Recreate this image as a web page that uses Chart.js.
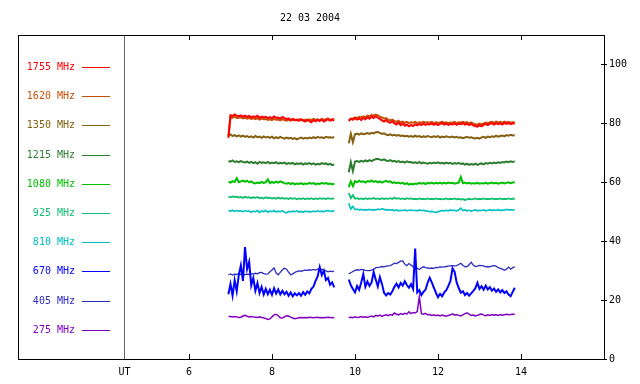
<!DOCTYPE html>
<html>
<head>
<meta charset="utf-8">
<script src="https://cdn.jsdelivr.net/npm/chart.js@4.4.0/dist/chart.umd.min.js"></script>
<style>
  html, body { margin: 0; padding: 0; background: #fff; }
  #spectro { display: block; }
</style>
</head>
<body>
<canvas id="spectro" width="640" height="384"></canvas>
<script>
// time in UT hours, two observing runs with a gap between them
const hours = [
  6.95,7,7.05,7.1,7.15,7.2,7.25,7.3,7.35,7.4,
  7.45,7.5,7.55,7.6,7.65,7.7,7.75,7.8,7.85,7.9,
  7.95,8,8.05,8.1,8.15,8.2,8.25,8.3,8.35,8.4,
  8.45,8.5,8.55,8.6,8.65,8.7,8.75,8.8,8.85,8.9,
  8.95,9,9.05,9.1,9.15,9.2,9.25,9.3,9.35,9.4,
  9.45,9.5,
  9.68,
  9.85,9.9,9.95,10,10.05,10.1,10.15,10.2,10.25,10.3,
  10.35,10.4,10.45,10.5,10.55,10.6,10.65,10.7,10.75,10.8,
  10.85,10.9,10.95,11,11.05,11.1,11.15,11.2,11.25,11.3,
  11.35,11.4,11.45,11.5,11.55,11.6,11.65,11.7,11.75,11.8,
  11.85,11.9,11.95,12,12.05,12.1,12.15,12.2,12.25,12.3,
  12.35,12.4,12.45,12.5,12.55,12.6,12.65,12.7,12.75,12.8,
  12.85,12.9,12.95,13,13.05,13.1,13.15,13.2,13.25,13.3,
  13.35,13.4,13.45,13.5,13.55,13.6,13.65,13.7,13.75,13.8,
  13.85
];

const xTicks = [6, 8, 10, 12, 14];
const yTicks = [0, 20, 40, 60, 80, 100];
const utHour = 4.43;
const title = '22 03 2004';

const freqLabels = ['1755 MHz', '1620 MHz', '1350 MHz', '1215 MHz', '1080 MHz',
                    '925 MHz', '810 MHz', '670 MHz', '405 MHz', '275 MHz'];
const freqColors = ['#ff0000', '#c8500a', '#846010', '#2e7d2e', '#00c000',
                    '#10bf70', '#00c0c0', '#0000ff', '#2c2cc0', '#8000c0'];
const lineWidths = [2, 2, 2, 2, 2, 1.8, 1.6, 2, 1.3, 1.5];

const f1755 = [
  75.5,82.8,82.5,83.0,82.6,82.4,82.7,82.3,82.6,82.2,
  82.5,82.0,82.4,82.1,82.6,81.9,82.3,82.0,82.2,81.8,
  82.1,81.7,82.3,81.9,82.0,81.6,82.2,81.8,81.4,81.7,
  81.2,81.5,81.0,81.3,80.9,81.4,81.0,80.6,81.2,80.8,
  80.4,81.1,80.7,81.2,80.8,81.3,80.6,81.0,81.4,80.9,
  81.2,81.0,
  null,
  80.8,81.6,81.2,81.8,81.3,81.7,81.1,81.9,81.4,82.0,
  81.6,82.3,81.8,82.4,81.9,81.5,81.0,80.6,81.1,80.4,
  80.2,80.7,80.0,79.6,80.3,79.4,79.9,79.2,79.6,79.0,
  79.5,79.1,79.7,79.3,79.8,79.4,79.9,79.5,79.8,79.6,
  80.0,79.5,79.9,79.4,79.8,80.1,79.6,79.9,79.5,79.8,
  79.6,80.0,79.5,79.9,79.7,80.1,79.6,79.9,79.4,79.8,
  79.3,79.1,78.9,79.4,79.0,79.5,79.8,79.4,79.9,80.0,
  79.6,80.1,79.7,80.0,79.6,80.2,79.8,80.1,79.7,80.0,
  79.9
];

const f1620 = [
  75.0,82.0,81.9,82.2,81.8,81.9,82.1,81.7,81.9,81.6,
  81.8,81.5,81.7,81.4,81.8,81.3,81.6,81.4,81.5,81.2,
  81.4,81.1,81.5,81.2,81.3,81.0,81.4,81.1,80.9,81.2,
  80.9,81.2,81.3,81.0,81.4,81.1,80.9,81.3,81.0,81.4,
  81.1,81.5,81.2,81.4,81.0,81.5,81.2,81.4,81.6,81.2,
  81.5,81.3,
  null,
  81.2,81.5,81.7,82.0,81.8,82.2,82.0,82.4,82.1,82.6,
  82.4,82.9,82.6,83.0,82.7,82.3,82.0,81.6,81.8,81.2,
  81.0,81.3,80.8,80.5,80.9,80.3,80.6,80.2,80.5,80.1,
  80.4,80.2,80.5,80.1,80.4,80.2,80.5,80.3,80.4,80.2,
  80.5,80.1,80.4,80.2,80.3,80.5,80.2,80.4,80.1,80.3,
  80.2,80.5,80.1,80.4,80.3,80.5,80.2,80.4,80.0,80.3,
  79.9,79.7,79.6,79.9,79.7,80.0,80.3,80.0,80.4,80.5,
  80.2,80.6,80.3,80.5,80.2,80.6,80.3,80.5,80.2,80.4,
  80.4
];

const f1350 = [
  75.8,76.2,75.7,76.0,75.6,75.9,75.5,75.8,75.4,75.7,
  75.3,75.6,75.2,75.7,75.3,75.5,75.1,75.6,75.2,75.4,
  75.1,75.5,74.9,75.3,75.0,75.4,75.1,74.8,75.2,74.9,
  75.1,74.7,75.0,74.6,74.9,75.2,74.8,75.1,74.9,75.2,
  75.0,75.3,75.0,75.4,75.1,75.3,75.0,75.4,75.2,75.3,
  75.1,75.4,
  null,
  73.2,76.4,73.6,76.3,76.5,76.2,76.6,76.3,76.5,76.7,
  76.4,76.8,76.6,77.0,77.1,76.8,76.4,76.6,76.2,76.0,
  76.3,75.9,76.1,75.8,76.0,75.7,75.9,75.6,75.8,75.5,
  75.7,75.4,75.8,75.5,75.7,75.3,75.6,75.4,75.7,75.5,
  75.3,75.6,75.4,75.7,75.2,75.5,75.3,75.6,75.4,75.3,
  75.5,75.2,75.4,75.1,75.3,75.0,75.2,75.4,75.1,75.3,
  75.0,74.9,75.1,74.8,75.2,75.4,75.1,75.5,75.3,75.6,
  75.4,75.8,75.5,75.7,75.9,75.6,76.0,75.8,76.1,75.9,
  76.0
];

const f1215 = [
  67.2,67.0,67.4,66.9,67.1,66.8,67.2,66.9,66.7,67.0,
  66.6,66.9,66.5,66.8,66.3,66.9,66.6,66.8,66.5,66.9,
  66.4,66.7,66.5,66.8,66.3,66.6,66.4,66.7,66.2,66.5,
  66.3,66.6,66.1,66.4,66.2,66.5,66.0,66.4,66.2,66.5,
  66.1,66.4,66.0,66.3,66.1,66.5,66.2,66.4,66.0,66.3,
  65.8,66.1,
  null,
  63.4,66.8,63.8,67.0,67.2,66.9,67.3,67.0,67.4,67.1,
  67.5,67.2,67.6,67.8,68.0,67.7,67.5,67.8,67.4,67.2,
  67.5,67.1,67.3,66.9,67.2,66.8,67.0,66.7,67.1,66.8,
  66.9,66.6,66.8,66.5,66.9,66.4,66.7,66.5,66.3,66.6,
  66.4,66.7,66.5,66.8,66.4,66.6,66.3,66.7,66.4,66.6,
  66.2,66.5,66.3,66.6,66.2,66.4,66.0,66.3,65.9,66.2,
  66.0,66.3,65.9,66.2,66.4,66.1,66.5,66.3,66.6,66.4,
  66.7,66.5,66.8,66.6,66.9,66.7,67.0,66.8,67.1,66.9,
  67.1
];

const f1080 = [
  60.2,59.9,60.4,60.1,61.4,60.0,60.3,60.6,60.2,60.5,
  60.0,60.3,59.8,59.6,59.9,59.7,60.1,59.8,60.0,61.0,
  59.7,60.1,59.8,60.2,59.9,60.3,60.0,59.7,59.5,59.8,
  59.4,59.7,59.3,59.6,59.4,59.7,59.3,59.6,59.4,59.8,
  59.5,59.7,59.3,59.6,59.4,59.8,59.5,59.7,59.4,59.6,
  59.3,59.5,
  null,
  58.3,60.3,58.7,60.4,60.0,60.5,60.1,60.3,59.9,60.4,
  60.2,60.6,60.1,60.4,60.0,60.3,59.9,60.2,60.5,60.1,
  60.3,59.8,60.0,59.7,59.9,59.6,59.8,59.4,59.7,59.2,
  59.5,59.3,59.6,59.4,59.8,59.5,59.7,59.4,59.8,59.6,
  59.9,59.5,59.8,59.6,59.9,59.5,59.8,59.6,59.9,59.7,
  59.8,59.5,59.7,59.9,61.8,59.7,59.9,59.6,59.8,59.5,
  59.7,59.6,59.8,59.5,59.7,59.6,59.8,59.5,59.7,59.9,
  59.6,59.8,59.5,59.7,59.9,59.6,59.8,60.0,59.7,59.9,
  60.0
];

const f925 = [
  55.1,54.9,55.2,55.0,55.1,54.8,55.0,54.7,55.1,54.8,
  54.9,54.6,54.9,54.7,55.0,54.6,54.8,54.5,54.9,54.6,
  54.8,54.5,54.7,54.4,54.8,54.5,54.7,54.4,54.6,54.3,
  54.7,54.4,54.6,54.2,54.5,54.3,54.6,54.2,54.5,54.3,
  54.6,54.2,54.5,54.3,54.6,54.4,54.5,54.3,54.6,54.4,
  54.5,54.4,
  null,
  56.3,54.6,55.6,54.4,54.6,54.3,54.5,54.2,54.6,54.3,
  54.5,54.4,54.7,54.3,54.5,54.2,54.6,54.3,54.5,54.4,
  54.6,54.3,54.8,54.4,54.6,54.3,54.5,54.2,54.6,54.4,
  54.5,54.3,54.4,54.2,54.5,54.3,54.4,54.2,54.5,54.3,
  54.4,54.2,54.5,54.3,54.4,54.2,54.3,54.5,54.2,54.4,
  54.3,54.5,54.2,54.4,54.1,54.3,54.0,54.2,54.4,54.2,
  54.3,54.5,54.2,54.4,54.3,54.5,54.2,54.4,54.3,54.5,
  54.2,54.4,54.3,54.5,54.2,54.4,54.3,54.5,54.3,54.4,
  54.4
];

const f810 = [
  50.4,50.2,50.5,50.1,50.4,50.2,50.3,50.0,50.4,50.1,
  50.3,49.8,50.2,50.0,50.4,49.7,50.3,50.0,50.5,49.8,
  50.2,50.0,50.4,49.9,50.2,50.0,50.3,49.9,49.6,50.1,
  49.9,50.2,50.0,50.3,49.9,50.1,49.8,50.2,50.0,50.1,
  49.9,50.2,50.0,50.3,50.1,50.2,50.0,50.3,50.4,50.1,
  50.3,50.2,
  null,
  52.9,50.9,51.8,50.7,50.9,50.6,50.8,50.5,50.7,50.6,
  50.8,50.5,50.7,50.6,50.9,50.7,51.0,50.8,50.6,50.7,
  50.5,50.7,50.4,50.6,50.3,50.5,50.4,50.6,50.3,50.5,
  50.6,50.4,50.5,50.3,50.6,50.4,50.5,50.3,50.2,50.0,
  50.1,49.9,49.8,50.0,50.2,50.4,50.3,50.5,50.3,50.6,
  50.4,50.5,50.3,50.6,51.2,50.4,50.6,50.3,50.5,50.2,
  50.4,50.6,50.3,50.5,50.4,50.6,50.3,50.5,50.7,50.4,
  50.6,50.5,50.7,50.4,50.6,50.5,50.8,50.6,50.7,50.5,
  50.8
];

const f670 = [
  22.0,25.5,21.5,26.8,23.0,28.5,31.8,26.5,38.0,30.5,
  33.0,25.0,27.5,23.2,25.8,22.4,24.5,21.9,23.8,22.0,
  23.5,21.8,24.0,22.2,23.6,21.9,23.2,22.0,22.8,21.5,
  22.6,21.3,22.3,21.6,22.4,21.5,22.7,21.8,22.9,22.3,
  23.8,24.6,26.5,28.0,31.2,28.5,30.0,26.8,27.5,25.2,
  26.0,24.3,
  null,
  27.0,25.0,23.8,22.6,24.8,23.5,26.0,28.8,24.5,26.3,
  24.8,26.0,29.5,27.0,24.6,27.8,25.5,22.5,21.6,22.4,
  21.9,23.0,24.5,25.6,24.3,25.8,24.9,26.4,25.1,24.2,
  25.4,23.8,37.5,22.6,23.4,21.7,22.8,23.5,25.9,27.6,
  26.0,24.2,22.5,21.0,22.1,21.3,22.6,23.4,24.8,26.5,
  30.8,29.6,26.0,24.1,22.5,23.0,21.7,22.4,21.5,22.3,
  23.1,24.0,25.9,23.8,24.7,23.5,24.9,23.6,24.4,23.2,
  23.9,22.8,23.6,22.6,23.4,22.4,23.0,21.9,21.3,22.8,
  24.2
];

const f405 = [
  28.6,28.9,28.5,28.8,28.7,29.0,28.7,28.9,28.6,28.8,
  28.7,29.0,28.8,29.1,28.9,29.3,29.4,29.0,28.8,28.9,
  29.6,30.2,30.9,29.2,28.6,29.4,30.3,30.8,30.5,29.5,
  28.6,28.9,29.4,29.7,29.9,29.8,30.0,30.2,30.1,30.3,
  30.2,30.4,30.2,30.5,30.6,30.4,30.1,29.9,29.6,29.8,
  29.7,29.8,
  null,
  28.9,29.3,29.7,30.1,30.3,30.2,30.4,30.3,30.1,30.0,
  30.0,30.2,30.4,31.0,31.1,31.2,31.4,31.3,31.5,31.6,
  31.7,32.1,32.5,32.4,32.8,33.2,33.3,32.2,31.7,32.4,
  31.9,31.3,31.5,30.8,30.4,31.0,31.3,31.0,30.9,30.8,
  30.9,30.8,31.1,31.0,31.3,31.2,31.3,31.4,31.5,31.6,
  31.7,31.6,31.7,32.1,32.5,31.8,31.3,31.4,32.0,32.8,
  31.9,31.4,31.5,31.8,31.7,31.6,31.3,31.4,31.3,31.6,
  31.7,31.5,31.0,30.8,30.5,30.1,30.5,31.2,30.5,31.0,
  31.3
];

const f275 = [
  14.4,14.4,14.3,14.4,14.3,14.1,14.2,14.6,14.8,14.5,
  14.3,14.4,14.3,14.2,14.1,14.3,14.1,14.0,13.7,13.4,
  13.6,14.3,15.0,15.2,14.7,14.0,13.9,14.3,14.7,14.6,
  14.2,13.9,13.7,13.8,14.0,14.1,14.0,14.1,14.0,14.2,
  14.1,14.0,14.1,14.2,14.0,14.1,14.0,14.1,14.2,14.1,
  14.0,14.1,
  null,
  14.1,14.2,14.0,14.3,14.1,14.2,14.4,14.2,14.3,14.1,
  14.4,14.6,14.3,14.8,14.6,14.9,14.5,14.8,15.0,14.7,
  15.1,14.9,15.6,15.2,15.0,15.4,15.1,15.5,15.3,16.0,
  15.4,15.8,15.6,16.1,21.2,15.4,15.2,15.5,15.0,15.1,
  14.8,15.0,14.7,14.9,14.6,14.9,14.7,14.5,14.8,15.0,
  15.3,14.9,15.1,14.8,14.6,15.0,15.4,15.7,15.2,14.8,
  14.9,14.6,14.8,15.1,15.3,14.9,14.7,15.0,14.8,15.1,
  14.9,15.0,14.8,15.1,14.9,15.0,15.2,15.0,15.1,15.2,
  15.2
];

const series = [f1755, f1620, f1350, f1215, f1080, f925, f810, f670, f405, f275];

const monoFont = '10px "DejaVu Sans Mono", "Liberation Mono", monospace';

// axes, frame, title and the frequency key are painted by hand
const framePlugin = {
  id: 'frame',
  afterDatasetsDraw(chart) {
    const { ctx, chartArea: a, scales: { x, y } } = chart;
    ctx.save();
    ctx.lineWidth = 1;

    // vertical separator at the UT label
    const ux = Math.round(x.getPixelForValue(utHour)) + 0.5;
    ctx.strokeStyle = '#666666';
    ctx.beginPath();
    ctx.moveTo(ux, a.top);
    ctx.lineTo(ux, a.bottom);
    ctx.stroke();

    ctx.strokeStyle = '#000000';
    ctx.strokeRect(Math.round(a.left) + 0.5, Math.round(a.top) + 0.5,
                   Math.round(a.right - a.left), Math.round(a.bottom - a.top));

    ctx.beginPath();
    xTicks.forEach(v => {
      const px = Math.round(x.getPixelForValue(v)) + 0.5;
      ctx.moveTo(px, a.top);
      ctx.lineTo(px, a.top + 5);
      ctx.moveTo(px, a.bottom);
      ctx.lineTo(px, a.bottom - 5);
    });
    yTicks.forEach(v => {
      const py = Math.round(y.getPixelForValue(v)) + 0.5;
      ctx.moveTo(a.right - 3, py);
      ctx.lineTo(a.right + 3, py);
    });
    ctx.stroke();

    ctx.font = monoFont;
    ctx.fillStyle = '#000000';
    ctx.textBaseline = 'middle';
    ctx.textAlign = 'center';
    xTicks.forEach(v => ctx.fillText(String(v), x.getPixelForValue(v), a.bottom + 13));
    ctx.fillText('UT', ux, a.bottom + 13);
    ctx.fillText(title, 310, 18);

    ctx.textAlign = 'left';
    yTicks.forEach(v => ctx.fillText(String(v), a.right + 5, y.getPixelForValue(v)));

    // frequency key
    freqLabels.forEach((lab, k) => {
      const ly = Math.round(a.top + 32 + k * 29.2) + 0.5;
      ctx.fillStyle = freqColors[k];
      ctx.strokeStyle = freqColors[k];
      ctx.textAlign = 'right';
      ctx.fillText(lab, 75, ly);
      ctx.beginPath();
      ctx.moveTo(82, ly);
      ctx.lineTo(110, ly);
      ctx.stroke();
    });
    ctx.restore();
  }
};

const data = {
  datasets: series.map((vals, k) => ({
    label: freqLabels[k],
    data: hours.map((h, i) => ({ x: h, y: vals[i] })),
    borderColor: freqColors[k],
    borderWidth: lineWidths[k],
    pointRadius: 0,
    spanGaps: false,
    tension: 0
  }))
};

const config = {
  type: 'line',
  data: data,
  options: {
    responsive: false,
    animation: false,
    layout: {
      padding: { left: 18, right: 36, top: 35, bottom: 25 }
    },
    scales: {
      x: { type: 'linear', min: 1.88, max: 16, display: false },
      y: { type: 'linear', min: 0, max: 110, display: false }
    },
    plugins: {
      legend: { display: false },
      tooltip: { enabled: false }
    }
  },
  plugins: [framePlugin]
};

const spectroChart = new Chart(document.getElementById('spectro'), config);
</script>
</body>
</html>
